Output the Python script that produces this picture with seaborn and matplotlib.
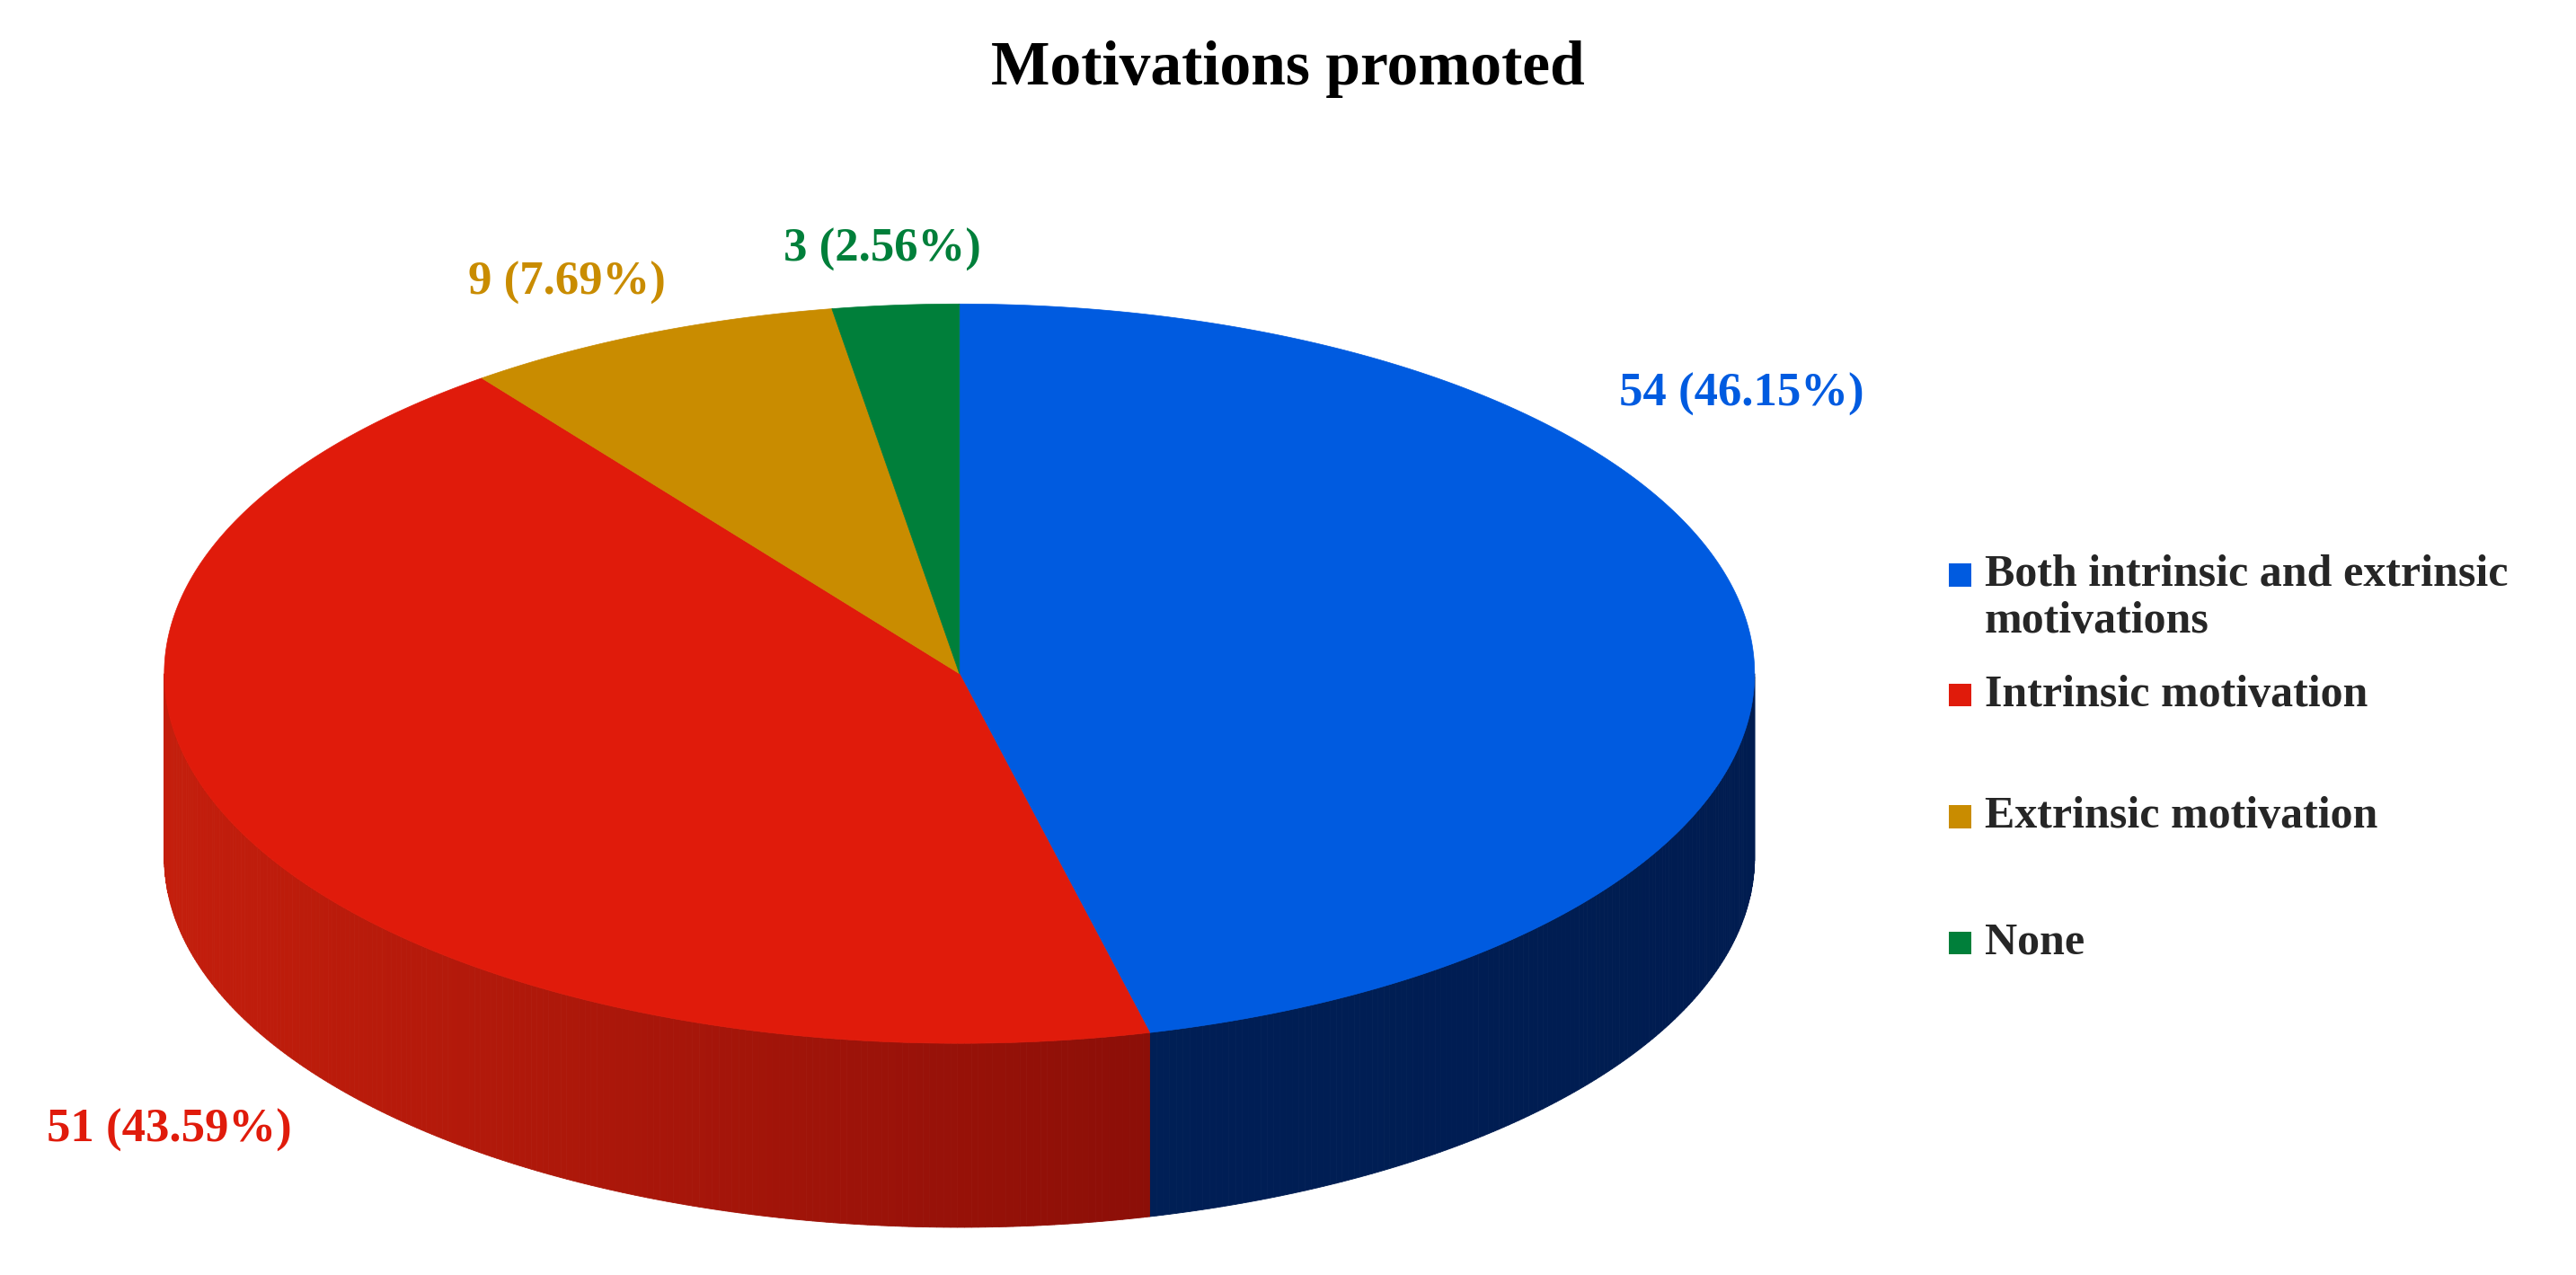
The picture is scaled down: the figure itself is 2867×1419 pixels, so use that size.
import numpy as np
import matplotlib
matplotlib.use("Agg")
import matplotlib.pyplot as plt
import seaborn as sns
from matplotlib.patches import Polygon, Rectangle
from matplotlib.colors import to_rgb

sns.set_theme(style="white")
plt.rcParams['font.family'] = ['Liberation Serif', 'DejaVu Serif']

categories = ["Both intrinsic and extrinsic\nmotivations", "Intrinsic motivation",
              "Extrinsic motivation", "None"]
counts = [54, 51, 9, 3]
pct_labels = ["54 (46.15%)", "51 (43.59%)", "9 (7.69%)", "3 (2.56%)"]
top_colors = ["#005BE0", "#E01B0B", "#C98C00", "#007F3A"]
side_light = ["#00235F", "#C41E0C", "#8A6000", "#005020"]
side_dark = ["#001C50", "#6A0505", "#5A4000", "#003015"]

W, H = 1568, 776
fig = plt.figure(figsize=(28.67, 14.19), dpi=100)
ax = fig.add_axes([0, 0, 1, 1])
ax.set_xlim(0, W); ax.set_ylim(H, 0); ax.axis("off")

cx, cy, rx, ry, depth = 584, 410, 484, 225, 112
vals = np.array(counts, float)
cum = np.concatenate([[0], np.cumsum(vals) / vals.sum()])
start = 90.0

def pt(t, dy=0):
    r = np.radians(t)
    return cx + rx * np.cos(r), cy - ry * np.sin(r) + dy

# sides (front half: t in [-180, 0])
for i in range(len(vals)):
    a = start - cum[i + 1] * 360
    b = start - cum[i] * 360
    lo, hi = max(a, -180), min(b, 0)
    if lo >= hi:
        continue
    ts = np.linspace(lo, hi, int((hi - lo) * 2) + 2)
    c1, c2 = np.array(to_rgb(side_light[i])), np.array(to_rgb(side_dark[i]))
    for t0, t1 in zip(ts[:-1], ts[1:]):
        f = (np.cos(np.radians((t0 + t1) / 2)) + 1) / 2
        col = c1 * (1 - f) + c2 * f
        p = [pt(t0), pt(t1), pt(t1, depth), pt(t0, depth)]
        ax.add_patch(Polygon(p, closed=True, facecolor=col, edgecolor=col, lw=0.6))

# top
for i in range(len(vals)):
    a = start - cum[i + 1] * 360
    b = start - cum[i] * 360
    ts = np.linspace(a, b, 300)
    p = [(cx, cy)] + [pt(t) for t in ts]
    ax.add_patch(Polygon(p, closed=True, facecolor=top_colors[i],
                         edgecolor=top_colors[i], lw=0.5))

label_pos = [(1060, 240), (103, 688), (345, 172), (537, 152)]
for (x, y), s, c in zip(label_pos, pct_labels, top_colors):
    ax.text(x, y, s, color=c, fontsize=38, fontweight="bold", ha="center", va="center")

ax.text(784, 42, "Motivations promoted", fontsize=50, fontweight="bold",
        ha="center", va="center", color="black")

leg_y = [364, 423, 497, 574]
leg_ty = [364, 423, 497, 574]
for y, ty, name, c in zip(leg_y, leg_ty, categories, top_colors):
    sq_y = y - 14 if "\n" in name else y
    ax.add_patch(Rectangle((1186, sq_y - 7), 14, 14, facecolor=c, edgecolor="none"))
    ax.text(1208, y, name, fontsize=36, fontweight="bold", ha="left", va="center",
            linespacing=1.2)

fig.savefig("out.png", dpi=100)
